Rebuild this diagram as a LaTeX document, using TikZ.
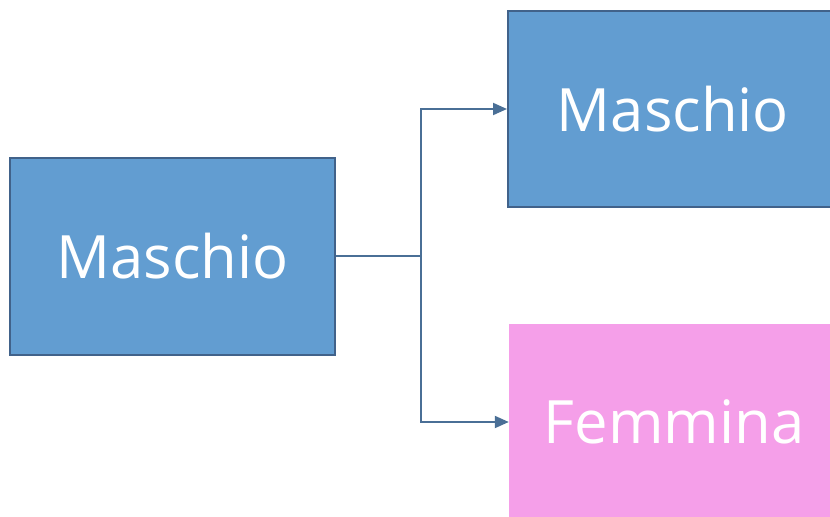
\documentclass[tikz,border=0pt]{standalone}
\usepackage{fontspec}
\setmainfont{Open Sans}
\usetikzlibrary{arrows.meta}
\usetikzlibrary{positioning}
\definecolor{boxblue}{HTML}{629DD1}
\definecolor{boxedge}{HTML}{41628A}
\definecolor{boxpink}{HTML}{F59FE9}
\definecolor{linkblue}{HTML}{4A6F96}
\tikzstyle{cblue} = [fill=boxblue, draw=boxedge, line width=2bp, inner sep=0pt, text=white, font=\fontsize{60}{72}\selectfont]
\tikzstyle{cpink} = [fill=boxpink, draw=none, inner sep=0pt, text=white, font=\fontsize{60}{72}\selectfont]
\tikzstyle{link}  = [draw=linkblue, line width=2bp, -{Triangle[length=14bp, width=12bp]}]

\begin{document}
\begin{tikzpicture}[x=1bp, y=-1bp]
  \useasboundingbox (0,0) rectangle (830,517);
  \clip (0,0) rectangle (830,517);
  \node[cblue, minimum width=325bp, minimum height=197bp] (padre) at (172.5,256.5) {Maschio};
  \node[cblue, minimum width=330bp, minimum height=196bp] (figlio) at (673,109) {Maschio};
  \node[cpink, minimum width=330bp, minimum height=196bp] (figlia) at (674,422) {Femmina};
  \coordinate (bivio) at (421,256.5);
  % rami
  \draw[link] (padre.east) -- (bivio) |- (figlio.west);
  \draw[link] (bivio) |- (figlia.west);
\end{tikzpicture}
\end{document}
